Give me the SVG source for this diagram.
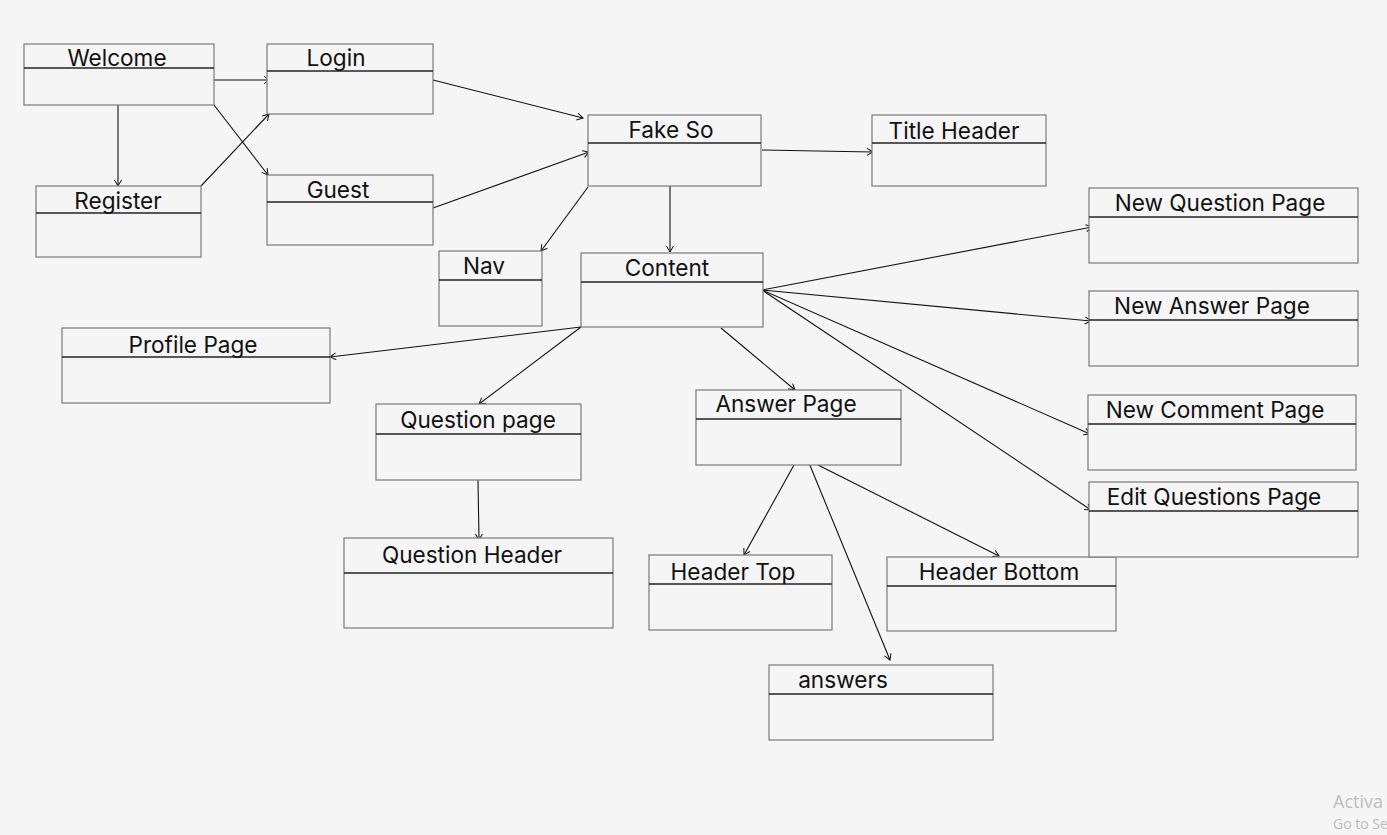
<svg xmlns="http://www.w3.org/2000/svg" width="1387" height="835" viewBox="0 0 1387 835">
<defs>
<marker id="arr" markerWidth="10" markerHeight="10" refX="7" refY="4" orient="auto" markerUnits="userSpaceOnUse">
<path d="M1,0.5 L7,4 L1,7.5" fill="none" stroke="#111" stroke-width="1"/>
</marker>
</defs>
<style>
.box{fill:#f5f5f5;stroke:#7a7a7a;stroke-width:1.2}
.div{stroke:#222;stroke-width:1.4}
.lbl{font-family:Inter,"Noto Sans","Liberation Sans",sans-serif;font-size:22.6px;fill:#111;text-anchor:middle}
.c{stroke:#111;stroke-width:1.1;fill:none;marker-end:url(#arr)}
.wm{font-family:"Segoe UI","Open Sans","Liberation Sans",sans-serif;fill:#bdbdbd}
</style>
<rect width="1387" height="835" fill="#f5f5f5"/>
<g id="connectors">
<line class="c" x1="214" y1="80" x2="270" y2="80"/>
<line class="c" x1="118" y1="105" x2="118" y2="186"/>
<line class="c" x1="214" y1="105" x2="268" y2="175"/>
<line class="c" x1="201" y1="186" x2="269" y2="114"/>
<line class="c" x1="433" y1="80" x2="583" y2="118"/>
<line class="c" x1="433" y1="208" x2="589" y2="152"/>
<line class="c" x1="762" y1="150" x2="873" y2="152"/>
<line class="c" x1="670" y1="186" x2="670" y2="252"/>
<line class="c" x1="588" y1="187" x2="541" y2="251"/>
<line class="c" x1="762" y1="290" x2="1092" y2="227"/>
<line class="c" x1="762" y1="290" x2="1091" y2="321"/>
<line class="c" x1="762" y1="290" x2="1090" y2="434"/>
<line class="c" x1="762" y1="290" x2="1091" y2="510"/>
<line class="c" x1="581" y1="327" x2="330" y2="357"/>
<line class="c" x1="581" y1="327" x2="479" y2="404"/>
<line class="c" x1="721" y1="328" x2="795" y2="390"/>
<line class="c" x1="478" y1="480" x2="479" y2="540"/>
<line class="c" x1="794" y1="465" x2="744" y2="555"/>
<line class="c" x1="809" y1="463" x2="890" y2="660"/>
<line class="c" x1="818" y1="465" x2="999" y2="556"/>
</g>
<g id="welcome"><rect class="box" x="24" y="44" width="190" height="61"/><line class="div" x1="24" y1="68" x2="214" y2="68"/><text class="lbl" x="117" y="66">Welcome</text></g>
<g id="login"><rect class="box" x="267" y="44" width="166" height="70"/><line class="div" x1="267" y1="71" x2="433" y2="71"/><text class="lbl" x="336" y="66">Login</text></g>
<g id="register"><rect class="box" x="36" y="186" width="165" height="71"/><line class="div" x1="36" y1="213" x2="201" y2="213"/><text class="lbl" x="118" y="209">Register</text></g>
<g id="guest"><rect class="box" x="267" y="175" width="166" height="70"/><line class="div" x1="267" y1="202" x2="433" y2="202"/><text class="lbl" x="338" y="198">Guest</text></g>
<g id="fakeso"><rect class="box" x="588" y="115" width="173" height="71"/><line class="div" x1="588" y1="143" x2="761" y2="143"/><text class="lbl" x="671" y="138">Fake So</text></g>
<g id="titleheader"><rect class="box" x="872" y="115" width="174" height="71"/><line class="div" x1="872" y1="143" x2="1046" y2="143"/><text class="lbl" x="954" y="139">Title Header</text></g>
<g id="nav"><rect class="box" x="439" y="251" width="103" height="75"/><line class="div" x1="439" y1="280" x2="542" y2="280"/><text class="lbl" x="484" y="274">Nav</text></g>
<g id="content"><rect class="box" x="581" y="253" width="182" height="74"/><line class="div" x1="581" y1="282" x2="763" y2="282"/><text class="lbl" x="667" y="276">Content</text></g>
<g id="profilepage"><rect class="box" x="62" y="328" width="268" height="75"/><line class="div" x1="62" y1="357" x2="330" y2="357"/><text class="lbl" x="193" y="353">Profile Page</text></g>
<g id="questionpage"><rect class="box" x="376" y="404" width="205" height="76"/><line class="div" x1="376" y1="434" x2="581" y2="434"/><text class="lbl" x="478" y="428">Question page</text></g>
<g id="answerpage"><rect class="box" x="696" y="390" width="205" height="75"/><line class="div" x1="696" y1="419" x2="901" y2="419"/><text class="lbl" x="786" y="412">Answer Page</text></g>
<g id="questionheader"><rect class="box" x="344" y="538" width="269" height="90"/><line class="div" x1="344" y1="573" x2="613" y2="573"/><text class="lbl" x="472" y="563">Question Header</text></g>
<g id="headertop"><rect class="box" x="649" y="555" width="183" height="75"/><line class="div" x1="649" y1="584" x2="832" y2="584"/><text class="lbl" x="733" y="580">Header Top</text></g>
<g id="headerbottom"><rect class="box" x="887" y="557" width="229" height="74"/><line class="div" x1="887" y1="586" x2="1116" y2="586"/><text class="lbl" x="999" y="580">Header Bottom</text></g>
<g id="answers"><rect class="box" x="769" y="665" width="224" height="75"/><line class="div" x1="769" y1="694" x2="993" y2="694"/><text class="lbl" x="843" y="688">answers</text></g>
<g id="newquestionpage"><rect class="box" x="1089" y="188" width="269" height="75"/><line class="div" x1="1089" y1="217" x2="1358" y2="217"/><text class="lbl" x="1220" y="211">New Question Page</text></g>
<g id="newanswerpage"><rect class="box" x="1089" y="291" width="269" height="75"/><line class="div" x1="1089" y1="320" x2="1358" y2="320"/><text class="lbl" x="1212" y="314">New Answer Page</text></g>
<g id="newcommentpage"><rect class="box" x="1088" y="395" width="268" height="75"/><line class="div" x1="1088" y1="424" x2="1356" y2="424"/><text class="lbl" x="1215" y="418">New Comment Page</text></g>
<g id="editquestionspage"><rect class="box" x="1089" y="482" width="269" height="75"/><line class="div" x1="1089" y1="511" x2="1358" y2="511"/><text class="lbl" x="1214" y="505">Edit Questions Page</text></g>
<text class="wm" x="1333" y="808" font-size="18">Activa</text>
<text class="wm" x="1333" y="829" font-size="14">Go to Se</text>
</svg>
